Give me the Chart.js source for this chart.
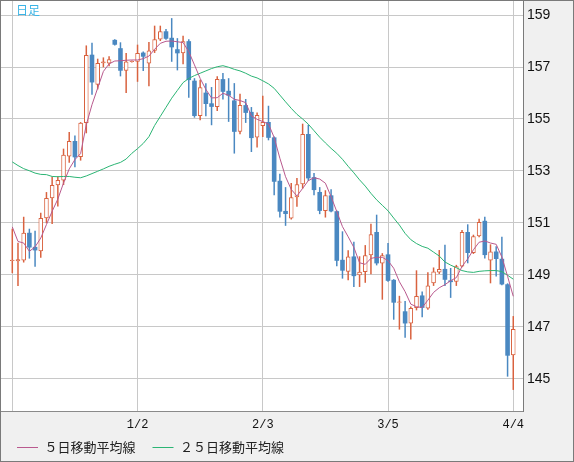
<!DOCTYPE html>
<html lang="ja">
<head>
<meta charset="utf-8">
<title>日足</title>
<script src="https://cdn.jsdelivr.net/npm/chart.js@4/dist/chart.umd.min.js"></script>
<style>
html,body{margin:0;padding:0;background:#f0f0f0;overflow:hidden;}
canvas{display:block;}
</style>
</head>
<body>
<canvas id="chart" width="574" height="462"></canvas>
<script>
// ---- data ----
const openP = [149.54,149.53,149.56,150.62,150.08,149.92,151.19,151.96,152.46,152.64,
153.56,154.15,153.54,154.85,157.47,156.32,157.15,157.14,158.04,157.72,
156.86,157.20,157.21,157.55,157.14,157.63,158.06,158.37,158.12,157.68,
157.53,157.99,156.47,155.12,156.01,155.60,155.47,156.53,156.08,155.71,
154.51,155.53,155.27,154.29,154.73,154.88,154.29,152.62,151.46,151.18,
151.99,152.49,154.42,152.76,152.19,151.47,152.06,151.45,149.58,149.13,
149.71,148.99,149.12,149.76,150.65,149.45,149.79,148.81,147.94,147.60,
147.14,147.73,148.21,147.72,148.69,149.10,149.23,148.79,148.74,149.33,
150.65,149.85,150.49,151.08,149.56,149.90,149.62,148.64,145.92];
const highP = [150.77,150.23,151.23,150.77,150.69,151.38,152.18,152.77,152.79,153.85,
154.49,154.36,154.87,157.82,157.92,157.31,157.36,157.40,158.06,157.94,
157.53,157.24,157.85,157.59,157.95,158.58,158.58,158.45,158.87,158.10,
158.19,158.06,156.56,156.50,156.37,156.22,156.63,156.76,156.56,156.37,
155.96,155.76,155.45,155.24,155.88,155.50,154.32,152.88,152.37,152.53,
152.72,154.81,154.77,152.91,152.37,152.25,152.29,151.47,150.67,149.94,
150.27,149.71,150.14,150.96,151.31,149.83,150.22,148.83,148.19,147.99,
147.78,149.17,148.36,149.10,149.28,149.95,150.15,149.26,149.38,150.72,
150.94,150.54,151.15,151.23,150.17,150.10,150.46,148.67,147.41];
const lowP = [149.08,148.59,149.49,149.64,149.33,149.67,151.00,150.97,151.64,152.47,
153.33,153.15,153.41,154.46,155.94,156.15,157.00,157.04,157.84,156.65,
156.01,157.18,156.44,156.86,156.27,157.55,158.01,158.06,157.21,156.88,
157.12,155.83,155.06,154.96,155.12,154.77,155.32,155.76,154.90,153.68,
154.42,154.86,153.74,153.91,154.32,154.19,152.08,151.22,150.90,151.14,
151.63,152.33,152.63,152.08,151.35,151.22,151.42,149.35,148.87,148.81,
148.55,148.55,148.71,149.04,149.38,148.06,148.75,147.29,146.91,146.60,
146.53,147.65,147.38,147.67,148.59,149.05,148.59,148.13,148.59,149.31,
149.46,149.82,150.46,149.64,148.69,148.95,148.62,145.10,144.59];
const closeP = [149.58,149.60,150.62,150.06,149.95,151.19,151.96,152.46,152.65,153.62,
154.15,153.53,154.85,157.46,156.41,157.15,157.21,157.29,157.86,156.86,
157.21,157.23,157.53,157.40,157.63,158.06,158.37,158.09,157.76,157.53,
157.99,156.50,155.12,156.22,155.58,155.47,156.53,156.05,155.90,154.51,
155.53,155.24,154.27,155.15,154.88,154.28,152.59,151.44,151.35,151.99,
152.49,154.42,152.72,152.27,151.47,152.06,151.45,149.55,149.17,149.71,
148.96,149.12,149.76,150.56,149.45,149.76,148.78,147.94,147.98,147.14,
147.73,148.19,147.74,148.59,149.13,149.23,148.82,148.73,149.33,150.65,
149.85,150.49,151.03,149.77,149.90,149.62,148.64,145.90,146.92];
const ma5 = [150.85,150.29,150.23,149.91,150.08,150.42,150.94,151.45,151.92,152.54,
153.08,153.44,153.67,154.78,155.55,156.19,156.83,157.12,157.23,157.24,
157.26,157.27,157.27,157.32,157.42,157.68,157.91,157.99,158.00,157.97,
157.94,157.59,157.08,156.56,156.14,155.81,155.82,155.99,155.91,155.76,
155.71,155.63,155.12,154.99,154.90,154.81,154.29,153.49,152.78,152.29,
152.04,152.33,152.63,152.74,152.69,152.53,152.01,151.44,150.86,150.47,
150.06,149.47,149.41,149.64,149.68,149.68,149.55,149.26,148.74,148.36,
147.88,147.78,147.75,148.03,148.33,148.51,148.63,148.78,148.90,149.33,
149.62,149.97,150.26,150.31,150.23,150.18,149.69,148.95,148.18];
const ma25 = [153.35,153.21,153.09,153.01,152.92,152.87,152.86,152.79,152.78,152.79,
152.79,152.76,152.74,152.81,152.90,152.99,153.08,153.18,153.26,153.33,
153.46,153.68,153.86,154.06,154.32,154.75,155.10,155.45,155.80,156.10,
156.40,156.56,156.67,156.76,156.85,156.94,157.01,157.05,156.99,156.91,
156.85,156.76,156.65,156.58,156.47,156.35,156.18,155.92,155.66,155.41,
155.18,155.00,154.80,154.55,154.30,154.08,153.87,153.68,153.45,153.18,
152.93,152.66,152.42,152.14,151.89,151.68,151.47,151.19,150.92,150.60,
150.36,150.21,150.10,150.03,149.88,149.73,149.50,149.38,149.28,149.17,
149.12,149.10,149.14,149.16,149.17,149.17,149.13,148.99,148.84];
const xTickIdx = [0, 22, 44, 66, 88];
const xTickLabels = ['', '1/2', '2/3', '3/5', '4/4'];
const yTicks = [145, 147, 149, 151, 153, 155, 157, 159];
const seriesNames = ['５日移動平均線', '２５日移動平均線'];
const chartTitle = '日足';

// ---- styling ----
const UP = '#d9623f', DOWN = '#4a88c1', MA5C = '#b9598e', MA25C = '#2bb574', GRID = '#c8c8c8';

const isUp = openP.map((o, i) => closeP[i] >= o);
const wicks = openP.map((_, i) => ({x: i, y: [lowP[i], highP[i]]}));
const bodies = openP.map((o, i) => ({x: i, y: [Math.min(o, closeP[i]), Math.max(o, closeP[i])]}));
const ma5Pts = ma5.map((v, i) => ({x: i, y: v}));
const ma25Pts = ma25.map((v, i) => ({x: i, y: v}));

const frame = {
  id: 'frame',
  afterLayout(chart) {
    const lg = chart.legend;
    if (lg) {
      const h = lg.bottom - lg.top;
      lg.top = chart.chartArea.bottom + 13;
      lg.bottom = lg.top + h;
    }
  },
  beforeDraw(chart) {
    const {ctx, chartArea: a, width, height} = chart;
    ctx.save();
    ctx.fillStyle = '#f0f0f0';
    ctx.fillRect(0, 0, width, height);
    ctx.fillStyle = '#ffffff';
    ctx.fillRect(a.left, a.top, a.right - a.left, a.bottom - a.top);
    ctx.restore();
  },
  afterDraw(chart) {
    const {ctx, chartArea: a, width, height} = chart;
    ctx.save();
    ctx.strokeStyle = '#7a7a7a';
    ctx.lineWidth = 1;
    ctx.strokeRect(0.5, 0.5, width - 1, height - 1);
    ctx.fillStyle = '#3ab4e6';
    ctx.font = '12px "Noto Sans CJK JP", sans-serif';
    ctx.textBaseline = 'middle';
    ctx.fillText(chartTitle, a.left + 16, a.top + 10);
    ctx.restore();
  }
};

new Chart(document.getElementById('chart'), {
  type: 'bar',
  data: {
    datasets: [
      {type: 'line', label: seriesNames[0], data: ma5Pts, borderColor: MA5C, backgroundColor: MA5C,
       borderWidth: 1, pointRadius: 0, tension: 0, order: 0},
      {type: 'line', label: seriesNames[1], data: ma25Pts, borderColor: MA25C, backgroundColor: MA25C,
       borderWidth: 1, pointRadius: 0, tension: 0, order: 0},
      {type: 'bar', label: 'body', data: bodies,
       backgroundColor: isUp.map(u => u ? '#ffffff' : DOWN),
       borderColor: isUp.map(u => u ? UP : DOWN),
       borderWidth: isUp.map(u => u ? 1 : 0),
       borderSkipped: false, grouped: false, barThickness: 4.4, maxBarThickness: 4.4, inflateAmount: 0.1, order: 1},
      {type: 'bar', label: 'wick', data: wicks,
       backgroundColor: isUp.map(u => u ? UP : DOWN),
       borderWidth: 0, grouped: false, barThickness: 1, maxBarThickness: 1, inflateAmount: 0.25, order: 2}
    ]
  },
  options: {
    responsive: false,
    animation: false,
    devicePixelRatio: 1,
    events: [],
    layout: {padding: {left: 0, top: 0, right: 1, bottom: -13}},
    scales: {
      x: {
        type: 'linear', min: -2.16, max: 89.71, offset: false,
        grid: {offset: false, color: GRID, lineWidth: 1, drawTicks: false},
        border: {display: true, color: '#8a8a8a'},
        afterBuildTicks: s => { s.ticks = xTickIdx.map(v => ({value: v})); },
        afterFit: s => { s.height = 24; s.paddingLeft = 0; s.paddingRight = 0; },
        ticks: {
          autoSkip: false, maxRotation: 0, padding: 7, color: '#111',
          font: {family: '"Liberation Mono", monospace', size: 12},
          callback: v => { const k = xTickIdx.indexOf(v); return k < 0 ? '' : xTickLabels[k]; }
        }
      },
      y: {
        type: 'linear', position: 'right', min: 143.769, max: 159.577,
        grid: {color: GRID, lineWidth: 1, drawTicks: false},
        border: {display: true, color: '#7a7a7a'},
        afterBuildTicks: s => { s.ticks = yTicks.map(v => ({value: v})); },
        afterFit: s => { s.width = 50; s.paddingTop = 0; s.paddingBottom = 0; },
        ticks: {padding: 4, color: '#111', font: {family: '"Liberation Sans", sans-serif', size: 14}}
      }
    },
    plugins: {
      legend: {
        display: true, position: 'bottom', align: 'start',
        labels: {
          boxWidth: 21, boxHeight: 1, padding: 17, color: '#222',
          font: {family: '"Noto Sans CJK JP", sans-serif', size: 13},
          generateLabels: chart => Chart.defaults.plugins.legend.labels.generateLabels(chart)
            .map(l => Object.assign(l, {lineWidth: 0})),
          filter: item => item.datasetIndex < 2
        }
      },
      tooltip: {enabled: false}
    }
  },
  plugins: [frame]
});
</script>
</body>
</html>
